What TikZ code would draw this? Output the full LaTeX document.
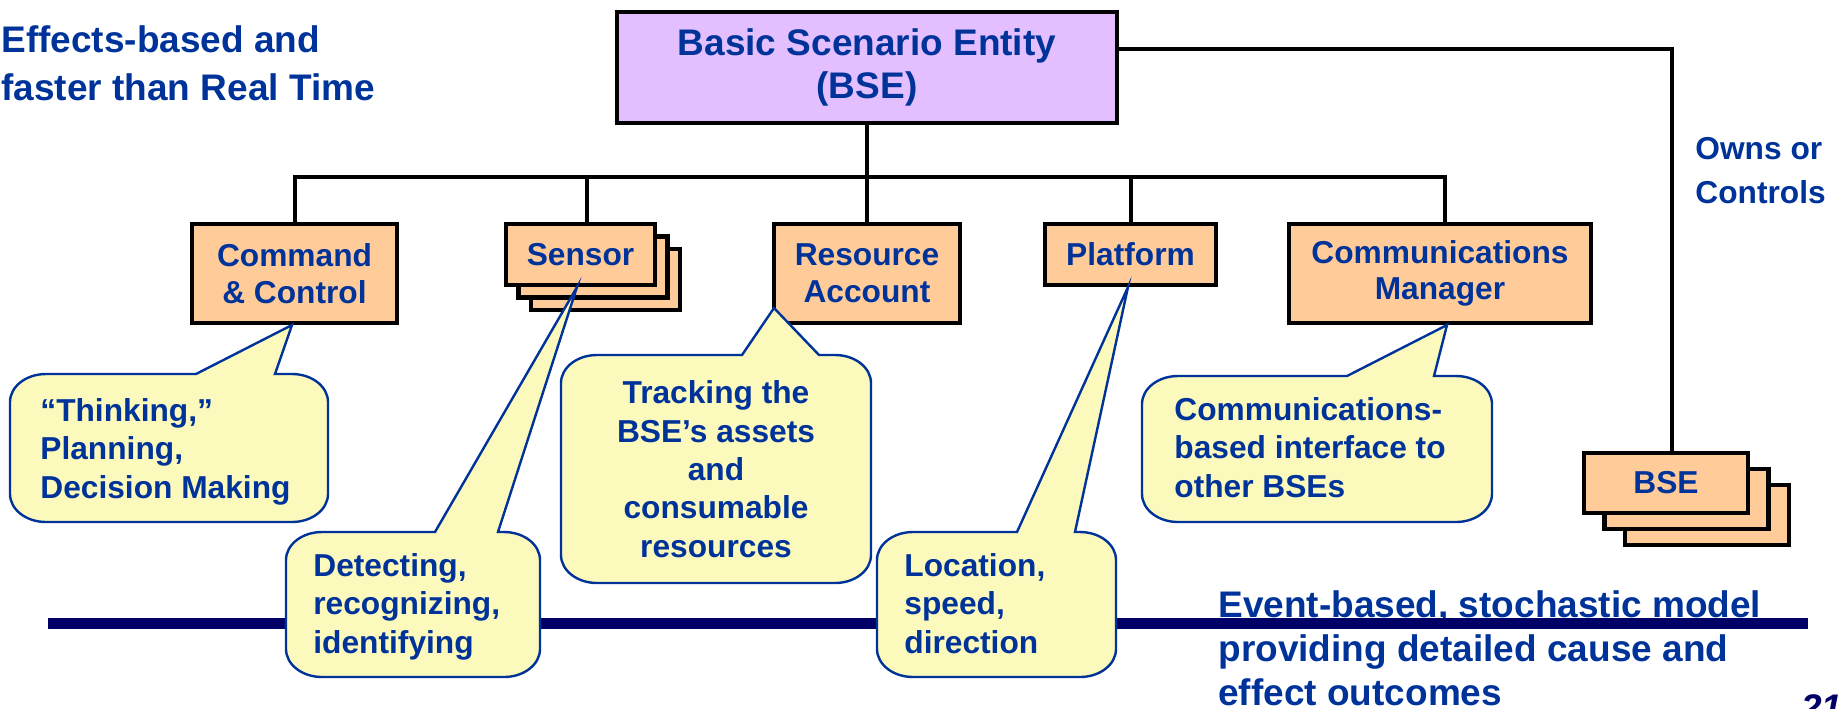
\documentclass[tikz,border=0pt]{standalone}
\usepackage{fontspec}
\setmainfont{Liberation Sans}
\definecolor{txt}{HTML}{003399}
\definecolor{navy}{HTML}{000066}
\definecolor{boxfill}{HTML}{FFCC99}
\definecolor{lav}{HTML}{E3BFFF}
\definecolor{bubfill}{HTML}{FCF9BC}
\newcommand{\fsBig}{\bfseries\fontsize{18.5pt}{21.5pt}\selectfont}
\newcommand{\fsTop}{\bfseries\fontsize{18.5pt}{24pt}\selectfont}
\newcommand{\fsBox}{\bfseries\fontsize{15.85pt}{18.35pt}\selectfont}
\newcommand{\fsBub}{\bfseries\fontsize{15.85pt}{19.15pt}\selectfont}
\newcommand{\fsOwn}{\bfseries\fontsize{15.85pt}{22pt}\selectfont}
\newcommand{\fsEvt}{\bfseries\fontsize{18.5pt}{22pt}\selectfont}
% #1 left, #2 top, #3 right, #4 bottom, #5 wedge left, #6 wedge right, #7 tip
\newcommand{\bubble}[7]{%
  \filldraw[bubblestyle] (#5,#2) -- (#7) -- (#6,#2) -- ({#3-36},#2)
    .. controls ({#3-16.1},#2) and (#3,{#2+12.5}) .. (#3,{#2+28}) -- (#3,{#4-28})
    .. controls (#3,{#4-12.5}) and ({#3-16.1},#4) .. ({#3-36},#4) -- ({#1+36},#4)
    .. controls ({#1+16.1},#4) and (#1,{#4-12.5}) .. (#1,{#4-28}) -- (#1,{#2+28})
    .. controls (#1,{#2+12.5}) and ({#1+16.1},#2) .. ({#1+36},#2) -- cycle;}
\begin{document}
\begin{tikzpicture}[x=0.5pt,y=-0.5pt,
  box/.style={draw=black,line width=2.2pt,fill=boxfill,inner sep=0pt,text=txt,font=\fsBox,align=center},
  conn/.style={draw=black,line width=2pt},
  bubblestyle/.style={draw=txt,line width=1.2pt,fill=bubfill,line join=miter},
  btext/.style={text=txt,font=\fsBub,inner sep=0pt,align=left,anchor=base west},
  free/.style={text=txt,inner sep=0pt,align=left,anchor=base west},
  bar/.style={draw=navy,line width=5.5pt}]
\useasboundingbox (0,0) rectangle (1841,708);

% free texts (anchored at the baseline of their last line)
\node[free,font=\fsTop] (eff) at (1,100) {Effects-based and\\faster than Real Time};
\node[free,font=\fsOwn] (owns) at (1695,203) {Owns or\\Controls};
\node[free,font=\fsEvt] (event) at (1218,705) {Event-based, stochastic model\\providing detailed cause and\\effect outcomes};
\node[free,text=navy,font=\fsBig\itshape] (pg) at (1801,720) {21};

% connector helpers
\coordinate (bus) at (0,177);
\coordinate (own) at (1672,49);

% boxes
\node[box,fill=lav,font=\fsBig,minimum width=250pt,minimum height=55.5pt] (main) at (867,67.5) {Basic Scenario Entity\\(BSE)};
\node[box,minimum width=102.5pt,minimum height=49.5pt] (cc) at (294.5,273.5) {Command\\\& Control};
\node[box,minimum width=74.5pt,minimum height=30.5pt] (sensorC) at (605.5,279.5) {};
\node[box,minimum width=74.5pt,minimum height=30.5pt] (sensorB) at (593,267) {};
\node[box,minimum width=74.5pt,minimum height=30.5pt] (sensor) at (580.5,254.5) {Sensor};
\node[box,minimum width=93.25pt,minimum height=49.5pt] (resource) at (867,273.5) {Resource\\Account};
\node[box,minimum width=85.5pt,minimum height=30.5pt] (platform) at (1130.5,254.5) {Platform};
\node[box,minimum width=150.75pt,minimum height=49.5pt] (comm) at (1440,273.5) {Communications\\Manager};
\node[box,minimum width=82pt,minimum height=30pt] (bseC) at (1707,515) {};
\node[box,minimum width=82pt,minimum height=30pt] (bseB) at (1686.5,499) {};
\node[box,minimum width=82pt,minimum height=30pt] (bse) at (1666,483) {BSE};

\draw[conn] (main.south) -- (resource.north);
\draw[conn] (cc.north) -- (cc.north |- bus) -- ([xshift=2.5pt]comm.north |- bus) -- ([xshift=2.5pt]comm.north);
\draw[conn] ([xshift=3pt]sensor.north) -- ([xshift=3pt]sensor.north |- bus);
\draw[conn] (platform.north) -- (platform.north |- bus);
\draw[conn] (main.east |- own) -- (own) -- (own |- bse.north);

% navy bar
\coordinate (barL) at (48,623.5);
\coordinate (barR) at (1808,623.5);
\draw[bar] (barL) -- (barR);

% callouts
\coordinate (cctip) at (292,325);
\bubble{10}{374}{328}{522}{196}{275}{cctip}
\node[btext] (cctext) at (40,498) {“Thinking,”\\Planning,\\Decision Making};

\coordinate (sentip) at (577,287);
\bubble{286}{532}{540}{677}{435}{498}{sentip}
\node[btext] (sentext) at (313,653) {Detecting,\\recognizing,\\identifying};

\coordinate (restip) at (774,308);
\bubble{561}{355}{871}{583}{742}{819}{restip}
\node[btext,align=center,anchor=base] (restext) at (716,557) {Tracking the\\BSE’s assets\\and\\consumable\\resources};

\coordinate (plattip) at (1128,287);
\bubble{877}{532}{1116}{677}{1017}{1075}{plattip}
\node[btext] (plattext) at (904,653) {Location,\\speed,\\direction};

\coordinate (commtip) at (1447,325);
\bubble{1142}{376}{1492}{522}{1347}{1434}{commtip}
\node[btext] (commtext) at (1174,497) {Communications-\\based interface to\\other BSEs};
\end{tikzpicture}
\end{document}
